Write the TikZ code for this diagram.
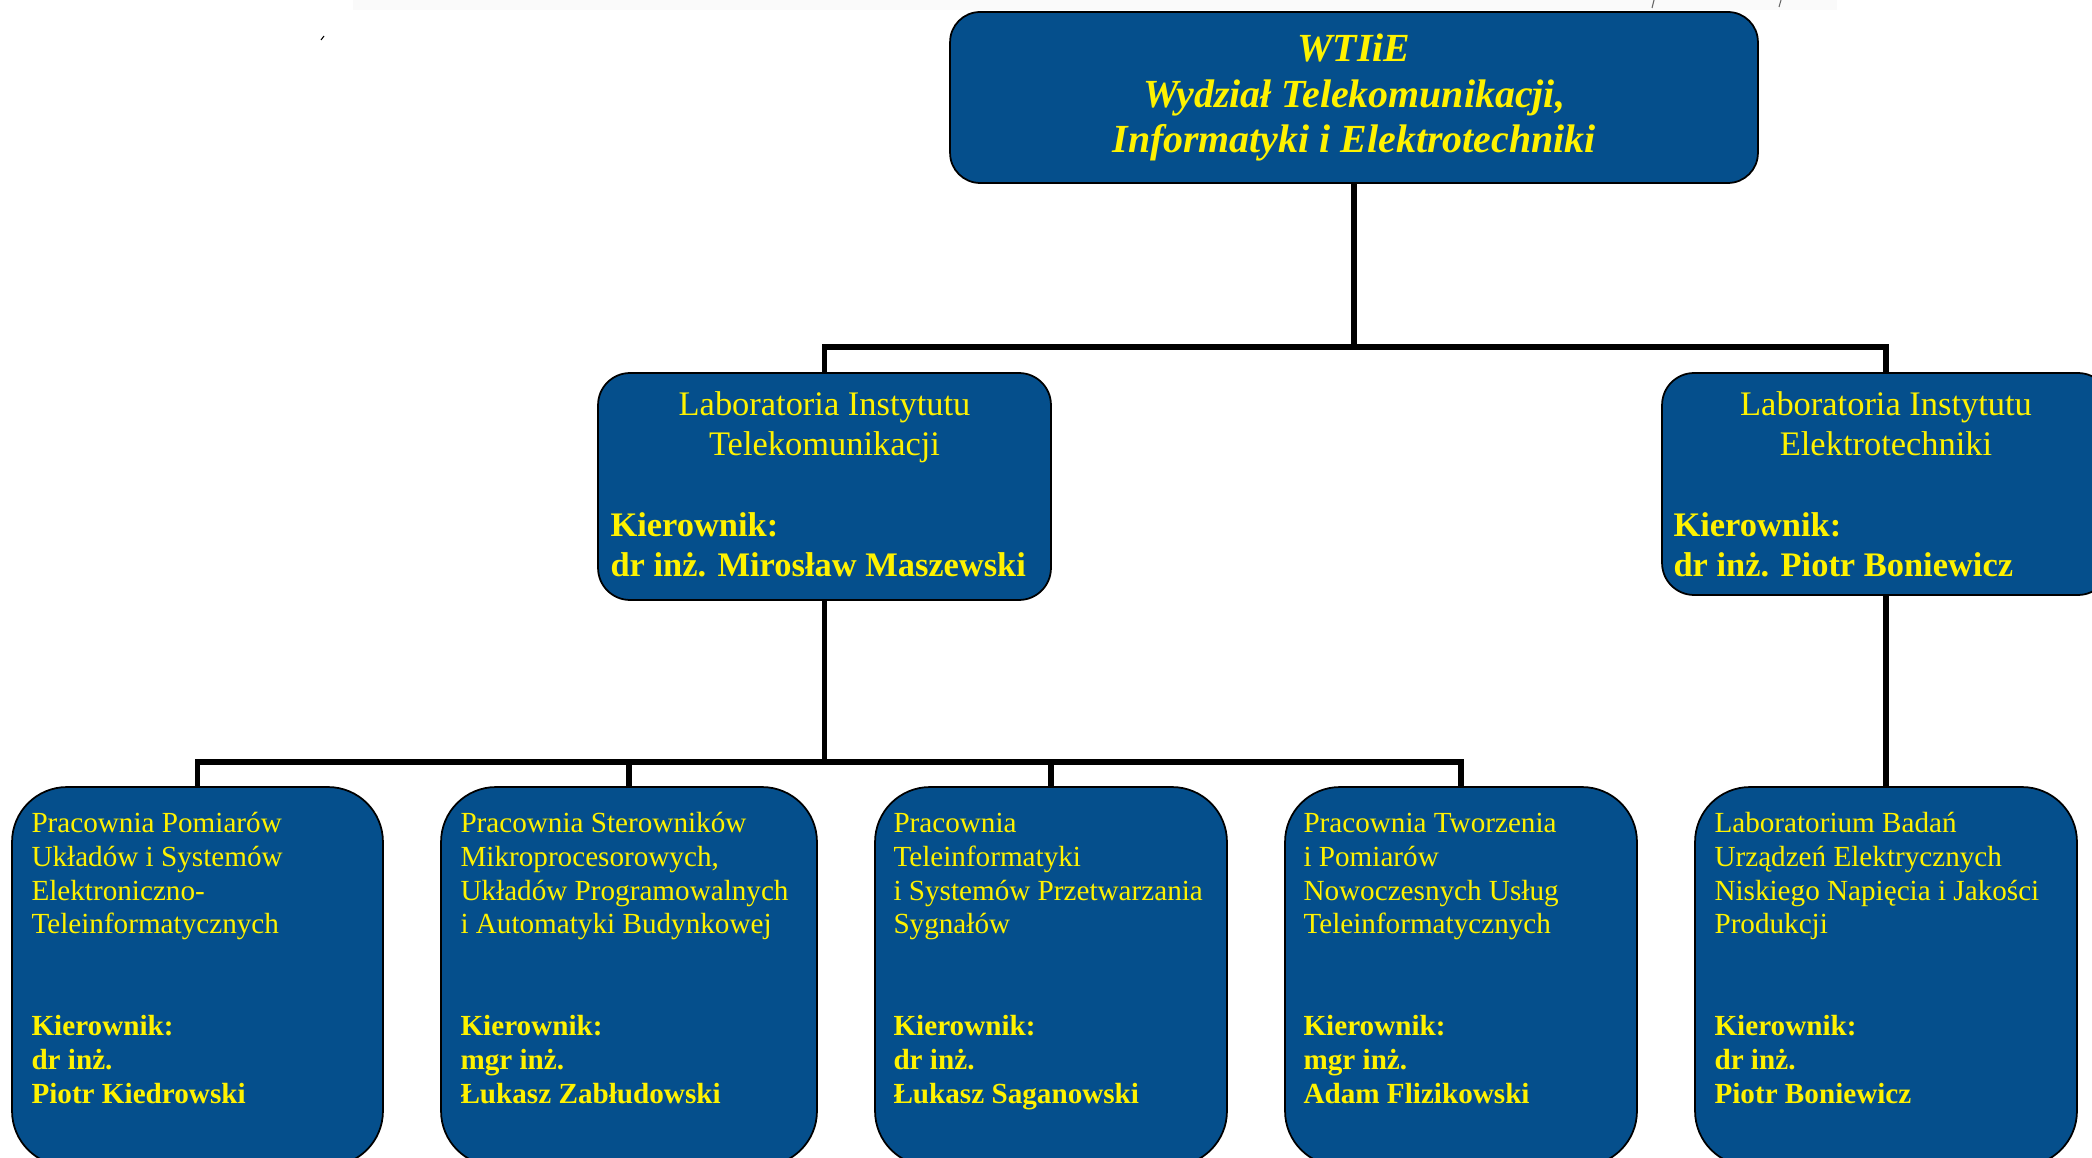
\documentclass[tikz,border=0pt]{standalone}
\usepackage{fontspec}
\setmainfont{Liberation Serif}
\definecolor{boxblue}{RGB}{5,79,140}
\tikzset{
  box/.style={draw=black, line width=1pt, fill=boxblue, rounded corners=#1, inner sep=0pt},
  box/.default=0.6cm,
  topbox/.style={box=0.6cm, text=yellow, align=center,
    font=\fontsize{22.7}{26.1}\selectfont\bfseries\itshape,
    minimum width=16.16cm, minimum height=3.42cm},
  labbox/.style={box=0.64cm},
  pracbox/.style={box=1.1cm, minimum height=7.58cm},
  labtitle/.style={text=yellow, align=center, anchor=north, inner sep=0pt,
    font=\fontsize{19.6}{23}\selectfont},
  labhead/.style={text=yellow, align=left, anchor=north west, inner sep=0pt,
    font=\fontsize{19.6}{23}\selectfont\bfseries},
  practext/.style={text=yellow, align=left, anchor=north west, inner sep=0pt,
    font=\fontsize{16.6}{19.3}\selectfont},
  conn/.style={line width=3.3pt}
}
\begin{document}
\begin{tikzpicture}[x=0.02cm, y=-0.02cm]
  \useasboundingbox (0,0) rectangle (2092,1158);
  \fill[black!2] (353,0) rectangle (1837,10);
  \draw[line width=0.6pt] (321,40) -- (324,36);
  \draw[line width=0.6pt, black!60] (1654,0) -- (1652,8);
  \draw[line width=0.6pt, black!60] (1781,0) -- (1779,7);

  \node[topbox] (wtie) at (1354,97.5)
    {WTIiE\\Wydział Telekomunikacji,\\Informatyki i Elektrotechniki};

  \node[labbox, minimum width=9.06cm, minimum height=4.54cm] (labt) at (824.5,486.5) {};
  \node[labtitle] (labtt) at ([shift={(0,14.6)}]labt.north)
    {\strut Laboratoria Instytutu\\Telekomunikacji};
  \node[labhead] (labth) at ([shift={(13,135.6)}]labt.north west)
    {\strut Kierownik:\\dr inż. Mirosław Maszewski};

  \node[labbox, minimum width=8.96cm, minimum height=4.44cm] (labe) at (1886,484) {};
  \node[labtitle] (labet) at ([shift={(0,14.6)}]labe.north)
    {\strut Laboratoria Instytutu\\Elektrotechniki};
  \node[labhead] (labeh) at ([shift={(12,135.6)}]labe.north west)
    {\strut Kierownik:\\dr inż. Piotr Boniewicz};

  \node[pracbox, minimum width=7.42cm] (p1) at (197.5,976.5) {};
  \node[pracbox, minimum width=7.52cm] (p2) at (629,976.5) {};
  \node[pracbox, minimum width=7.04cm] (p3) at (1051,976.5) {};
  \node[pracbox, minimum width=7.04cm] (p4) at (1461,976.5) {};
  \node[pracbox, minimum width=7.64cm] (p5) at (1886,976.5) {};

  \node[practext] (t1) at ([shift={(20,22)}]p1.north west)
    {\strut Pracownia Pomiarów\\Układów i Systemów\\Elektroniczno-\\Teleinformatycznych\\[2\baselineskip]
     \textbf{Kierownik:}\\\textbf{dr inż.}\\\textbf{Piotr Kiedrowski}};
  \node[practext] (t2) at ([shift={(20,22)}]p2.north west)
    {\strut Pracownia Sterowników\\Mikroprocesorowych,\\Układów Programowalnych\\i Automatyki Budynkowej\\[2\baselineskip]
     \textbf{Kierownik:}\\\textbf{mgr inż.}\\\textbf{Łukasz Zabłudowski}};
  \node[practext] (t3) at ([shift={(19,22)}]p3.north west)
    {\strut Pracownia\\Teleinformatyki\\i Systemów Przetwarzania\\Sygnałów\\[2\baselineskip]
     \textbf{Kierownik:}\\\textbf{dr inż.}\\\textbf{Łukasz Saganowski}};
  \node[practext] (t4) at ([shift={(19,22)}]p4.north west)
    {\strut Pracownia Tworzenia\\i Pomiarów\\Nowoczesnych Usług\\Teleinformatycznych\\[2\baselineskip]
     \textbf{Kierownik:}\\\textbf{mgr inż.}\\\textbf{Adam Flizikowski}};
  \node[practext] (t5) at ([shift={(20,22)}]p5.north west)
    {\strut Laboratorium Badań\\Urządzeń Elektrycznych\\Niskiego Napięcia i Jakości\\Produkcji\\[2\baselineskip]
     \textbf{Kierownik:}\\\textbf{dr inż.}\\\textbf{Piotr Boniewicz}};

  \coordinate (j1) at (1354,347);
  \coordinate (j2) at (824.5,762);
  \begin{scope}[conn]
    \draw (wtie) -- (j1);
    \draw (labt) |- (j1) -| (labe);
    \draw (labt) -- (j2);
    \draw (p1) |- (j2) -| (p4);
    \draw (p2) -- (p2 |- j2);
    \draw (p3) -- (p3 |- j2);
    \draw (labe) -- (p5);
  \end{scope}
\end{tikzpicture}
\end{document}
